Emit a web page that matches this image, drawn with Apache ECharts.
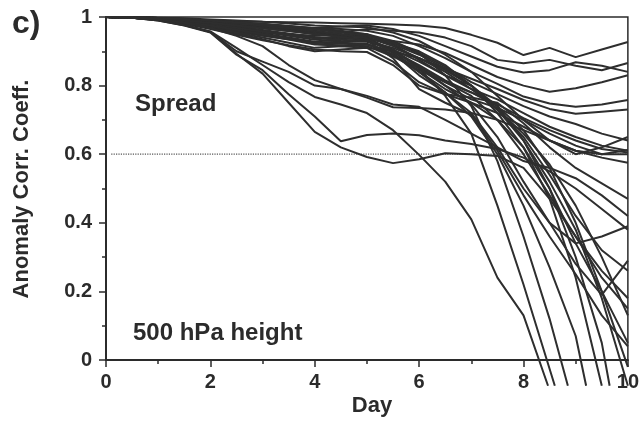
<!DOCTYPE html>
<html>
<head>
<meta charset="utf-8">
<script src="https://cdn.jsdelivr.net/npm/echarts@6/dist/echarts.min.js"></script>
<style>
  html, body { margin: 0; padding: 0; background: #fff; }
  #chart { width: 642px; height: 422px; }
</style>
</head>
<body>
<div id="chart"></div>
<script>
// forecast day, every 12 hours
var days = [0, 0.5, 1, 1.5, 2, 2.5, 3, 3.5, 4, 4.5, 5, 5.5, 6, 6.5, 7, 7.5, 8, 8.5, 9, 9.5, 10];
var refLevel = 0.6;

// ensemble members (anomaly corr. coeff.), a [day, value] pair marks where a line leaves the frame
var a1 = [1, .999, .997, .994, .990, .988, .986, .985, .984, .982, .980, .978, .975, .968, .948, .925, .889, .910, .883, .905, .927];
var a2 = [1, .998, .994, .985, .975, .965, .955, .950, .945, .955, .965, .960, .955, .940, .915, .875, .865, .875, .858, .845, .866];
var a3 = [1, .999, .996, .992, .986, .978, .970, .965, .968, .972, .975, .965, .945, .915, .885, .855, .838, .845, .868, .858, .840];
var a4 = [1, .998, .993, .984, .972, .958, .945, .935, .925, .928, .932, .930, .920, .895, .860, .825, .800, .782, .792, .810, .830];
var a5 = [1, .999, .997, .993, .988, .983, .978, .973, .968, .965, .960, .945, .915, .880, .840, .805, .768, .748, .738, .745, .758];
var a6 = [1, .998, .992, .982, .968, .952, .935, .915, .900, .905, .910, .900, .880, .850, .820, .790, .758, .732, .718, .724, .730];
var a7 = [1, .999, .996, .991, .984, .976, .968, .960, .952, .948, .945, .925, .895, .855, .810, .775, .740, .710, .688, .660, .640];
var b1 = [1, .999, .997, .994, .989, .984, .979, .973, .966, .958, .950, .920, .875, .830, .790, .760, .720, .680, .650, .625, .610];
var b2 = [1, .998, .993, .983, .970, .955, .940, .925, .910, .915, .920, .900, .860, .815, .780, .745, .705, .670, .640, .615, .605];
var b3 = [1, .999, .995, .989, .980, .970, .960, .950, .940, .938, .935, .905, .855, .800, .760, .735, .700, .660, .625, .600, .600];
var b4 = [1, .999, .997, .993, .987, .980, .972, .962, .952, .946, .940, .900, .840, .790, .750, .720, .680, .640, .610, .590, .575];
var b5 = [1, .999, .998, .996, .993, .990, .986, .981, .975, .972, .970, .955, .930, .890, .840, .770, .700, .640, .600, .620, .650];
var b6 = [1, .998, .992, .980, .965, .948, .932, .918, .905, .900, .898, .860, .800, .775, .765, .750, .690, .620, .560, .515, .470];
var c1 = [1, .999, .996, .990, .982, .972, .962, .952, .942, .938, .935, .905, .850, .770, .660, .450, .220, [8.6, -0.075]];
var c2 = [1, .999, .997, .994, .990, .985, .980, .974, .967, .960, .950, .930, .895, .830, .740, .580, .360, .120, [8.85, -0.075]];
var c3 = [1, .998, .994, .986, .976, .964, .952, .940, .928, .925, .922, .890, .840, .780, .710, .600, .450, .270, .070, [9.2, -0.075]];
var c4 = [1, .999, .996, .992, .986, .979, .972, .964, .956, .948, .940, .920, .890, .850, .800, .720, .620, .470, .240, [9.5, -0.075]];
var c5 = [1, .998, .993, .984, .973, .960, .947, .934, .920, .918, .915, .885, .845, .810, .780, .740, .670, .560, .400, .200, -.020];
var c6 = [1, .999, .997, .993, .988, .982, .975, .967, .959, .950, .940, .915, .880, .840, .790, .730, .640, .520, .380, .180, -.075];
var c7 = [1, .999, .995, .988, .978, .967, .956, .945, .934, .930, .928, .905, .870, .830, .800, .740, .640, .500, .340, .200, .050];
var c8 = [1, .999, .996, .991, .984, .976, .968, .960, .951, .943, .934, .900, .855, .810, .770, .700, .600, .480, .360, .260, .180];
var c9 = [1, .998, .994, .987, .978, .968, .958, .948, .938, .934, .930, .910, .880, .845, .800, .730, .650, .540, .420, .320, .260];
var c10 = [1, .999, .997, .993, .988, .982, .975, .968, .960, .950, .938, .895, .830, .780, .720, .620, .500, .400, .340, .360, .390];
var c11 = [1, .998, .993, .985, .974, .962, .950, .938, .926, .922, .920, .890, .850, .800, .745, .650, .520, .400, .280, .190, .290];
var c12 = [1, .999, .996, .990, .983, .975, .967, .959, .950, .942, .932, .880, .790, .750, .715, .610, .480, .360, .250, .130, .040];
var c13 = [1, .999, .997, .994, .990, .985, .979, .972, .964, .955, .945, .925, .900, .860, .800, .730, .660, .570, .450, .300, .130];
var c14 = [1, .998, .993, .985, .975, .963, .950, .937, .922, .915, .910, .870, .810, .775, .750, .700, .620, .500, .300, .050, [9.65, -0.075]];
var e1 = [1, .998, .990, .975, .955, .890, .845, .775, .710, .638, .656, .660, .655, .640, .630, .615, .590, .550, .500, .440, .380];
var e2 = [1, .998, .990, .976, .957, .900, .870, .840, .800, .790, .765, .737, .735, .730, .720, .700, .670, .640, .610, .600, .612];
var e4 = [1, .998, .991, .977, .956, .893, .835, .750, .665, .620, .592, .574, .585, .603, .600, .595, .560, .470, .360, .240, .150];
var e5 = [1, .998, .991, .977, .958, .910, .860, .810, .767, .745, .720, .670, .598, .520, .410, .240, .130, [8.47, -0.075]];
var e6 = [1, .999, .994, .983, .968, .945, .915, .860, .816, .790, .770, .745, .738, .700, .660, .620, .580, .560, .530, .480, .420];

var members = [a1, a2, a3, a4, a5, a6, a7, b1, b2, b3, b4, b5, b6,
  c1, c2, c3, c4, c5, c6, c7, c8, c9, c10, c11, c12, c13, c14,
  e1, e2, e4, e5, e6];

var ink = '#2b2b2b';
var font = '"Liberation Sans", Arial, Helvetica, sans-serif';

var chart = echarts.init(document.getElementById('chart'));

var series = [{
  type: 'line',
  data: [[0.1, refLevel], [10, refLevel]],
  symbol: 'none',
  silent: true,
  z: 1,
  lineStyle: { color: '#555', width: 1.2, type: 'dotted' }
}];
members.forEach(function (m) {
  series.push({
    type: 'line',
    data: m.map(function (v, i) { return Array.isArray(v) ? v : [days[i], v]; }),
    symbol: 'none',
    silent: true,
    clip: false,
    z: 2,
    lineStyle: { color: '#2e2e2e', width: 2 }
  });
});

var axisCommon = {
  type: 'value',
  axisLine: { show: true, lineStyle: { color: ink, width: 2 } },
  axisTick: { show: true, length: 7, lineStyle: { color: ink, width: 1.5 } },
  minorTick: { show: true, splitNumber: 2, length: 4, lineStyle: { color: ink, width: 1.5 } },
  splitLine: { show: false },
  minorSplitLine: { show: false }
};

var option = {
  animation: false,
  grid: { left: 106, right: 6, top: 17, bottom: 62, show: true, borderColor: ink, borderWidth: 1.5 },
  xAxis: Object.assign({}, axisCommon, {
    min: 0, max: 10, interval: 2,
    axisLabel: { color: ink, fontSize: 20, fontWeight: 'bold', fontFamily: font, margin: 12 }
  }),
  yAxis: Object.assign({}, axisCommon, {
    min: 0, max: 1, interval: 0.2,
    axisLabel: {
      color: ink, fontSize: 20, fontWeight: 'bold', fontFamily: font, margin: 14,
      formatter: function (v) { return (v === 0 || v === 1) ? String(v) : v.toFixed(1); }
    }
  }),
  graphic: [
    { type: 'text', left: 12, top: 8, style: { text: 'c)', font: 'bold 32px ' + font, fill: ink } },
    { type: 'text', x: 135, y: 104, style: { text: 'Spread', font: 'bold 24px ' + font, fill: ink, textVerticalAlign: 'middle' } },
    { type: 'text', x: 133, y: 333, style: { text: '500 hPa height', font: 'bold 24px ' + font, fill: ink, textVerticalAlign: 'middle' } },
    { type: 'text', x: 372, y: 406, style: { text: 'Day', font: 'bold 22px ' + font, fill: ink, textAlign: 'center', textVerticalAlign: 'middle' } },
    { type: 'text', x: 22, y: 189, rotation: Math.PI / 2,
      style: { text: 'Anomaly Corr. Coeff.', font: 'bold 22px ' + font, fill: ink, textAlign: 'center', textVerticalAlign: 'middle' } }
  ],
  series: series
};

chart.setOption(option);
</script>
</body>
</html>
